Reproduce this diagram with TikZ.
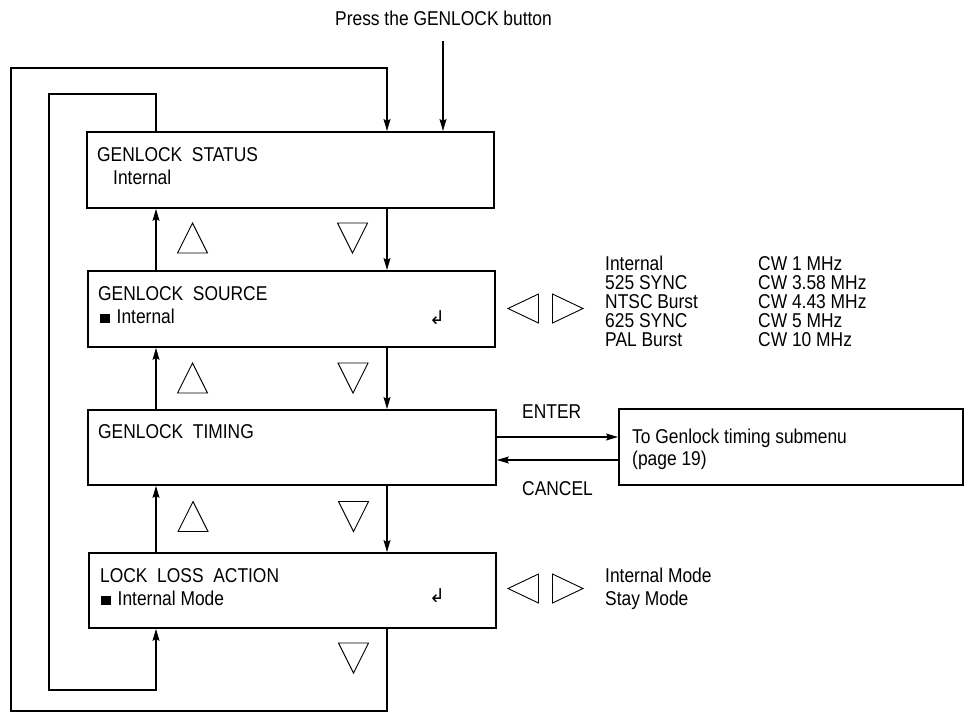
\documentclass[tikz,border=0pt]{standalone}
\usepackage{fontspec}
\setmainfont{Liberation Sans}[FakeStretch=0.87]
\newfontfamily\symfont{DejaVu Sans}
\usetikzlibrary{arrows.meta}
\begin{document}
\begin{tikzpicture}[x=1pt,y=-1pt,
  menubox/.style={draw, line width=1.9pt, rectangle, anchor=north west, inner sep=0pt},
  txt/.style={anchor=base west, inner sep=0pt, font=\fontsize{20}{20}\selectfont},
  retsym/.style={inner sep=0pt, font=\symfont\fontsize{19}{19}\selectfont},
  conn/.style={line width=1.1pt},
  arr/.style={conn, -{Stealth[length=12pt,width=7pt,inset=2pt]}},
  tri/.style={line width=0.9pt, line join=miter},
  uptri/.pic={\draw[tri] (-15,15) -- (0,-15) -- (15,15) -- cycle;},
  dntri/.pic={\draw[tri] (-15,-15) -- (0,15) -- (15,-15) -- cycle;},
  lftri/.pic={\draw[tri] (15,-14.5) -- (-15.5,0) -- (15,14.5) -- cycle;},
  rttri/.pic={\draw[tri] (-15,-14.5) -- (15.5,0) -- (-15,14.5) -- cycle;}
]
\useasboundingbox (0,0) rectangle (964,713);
\fill[white] (0,0) rectangle (964,713);

% boxes
\node[menubox, minimum width=407pt, minimum height=76pt] (b1) at (86,131) {};
\node[menubox, minimum width=407pt, minimum height=76pt] (b2) at (87,270) {};
\node[menubox, minimum width=408pt, minimum height=75pt] (b3) at (87,409) {};
\node[menubox, minimum width=407pt, minimum height=75pt] (b4) at (88,552) {};
\node[menubox, minimum width=344pt, minimum height=76pt] (sub) at (618,408) {};

% box texts
\node[txt] (t1a) at (97,161) {GENLOCK\ \ STATUS};
\node[txt] (t1b) at (113,184) {Internal};
\node[txt] (t2a) at (98,300) {GENLOCK\ \ SOURCE};
\node[txt] (t2b) at (100,323) {\rule{9.5pt}{9.5pt}\hspace{7pt}Internal};
\node[retsym] (r2) at (437,318) {↲};
\node[txt] (t3a) at (98,438) {GENLOCK\ \ TIMING};
\node[txt] (t4a) at (100,582) {LOCK\ \ LOSS\ \ ACTION};
\node[txt] (t4b) at (101,605) {\rule{9.5pt}{9.5pt}\hspace{7pt}Internal Mode};
\node[retsym] (r4) at (437,596) {↲};
\node[txt] (ts1) at (632,443) {To Genlock timing submenu};
\node[txt] (ts2) at (632,465) {(page 19)};

% top label
\node[txt] (press) at (335,25) {Press the GENLOCK button};

% option lists
\node[txt] (o1) at (605,270) {Internal};
\node[txt] (o2) at (605,289) {525 SYNC};
\node[txt] (o3) at (605,308) {NTSC Burst};
\node[txt] (o4) at (605,327) {625 SYNC};
\node[txt] (o5) at (605,346) {PAL Burst};
\node[txt] (c1) at (758,270) {CW 1 MHz};
\node[txt] (c2) at (758,289) {CW 3.58 MHz};
\node[txt] (c3) at (758,308) {CW 4.43 MHz};
\node[txt] (c4) at (758,327) {CW 5 MHz};
\node[txt] (c5) at (758,346) {CW 10 MHz};
\node[txt] (m1) at (605,582) {Internal Mode};
\node[txt] (m2) at (605,605) {Stay Mode};

\node[txt] (enter) at (522,418) {ENTER};
\node[txt] (cancel) at (522,495) {CANCEL};

% helper coordinates
\coordinate (ux) at (156,0);
\coordinate (dx) at (387,0);
\coordinate (px) at (443,41);
\coordinate (ob) at (11,711);
\coordinate (ot) at (11,68);
\coordinate (it) at (49,94);
\coordinate (ib) at (49,690);
\coordinate (ey) at (0,437);
\coordinate (cy) at (0,460);

% press arrow
\draw[arr] (px) -- (b1.north -| px);

% up arrows
\draw[arr] (b2.north -| ux) -- (b1.south -| ux);
\draw[arr] (b3.north -| ux) -- (b2.south -| ux);
\draw[arr] (b4.north -| ux) -- (b3.south -| ux);
% down arrows
\draw[arr] (b1.south -| dx) -- (b2.north -| dx);
\draw[arr] (b2.south -| dx) -- (b3.north -| dx);
\draw[arr] (b3.south -| dx) -- (b4.north -| dx);

% outer loop: bottom box back to top box
\draw[arr] (b4.south -| dx) -- (dx |- ob) -- (ob) -- (ot) -- (ot -| dx) -- (b1.north -| dx);
% inner loop: top box up to bottom box
\draw[arr] (b1.north -| ux) -- (ux |- it) -- (it) -- (ib) -- (ib -| ux) -- (b4.south -| ux);

% enter / cancel
\draw[arr] (b3.east |- ey) -- (sub.west |- ey);
\draw[arr] (sub.west |- cy) -- (b3.east |- cy);

% key triangles
\pic at (192.5,238) {uptri};
\pic at (192.5,378) {uptri};
\pic at (193,516.5) {uptri};
\pic at (352.5,238) {dntri};
\pic at (353,378) {dntri};
\pic at (353.5,516.5) {dntri};
\pic at (353.5,658) {dntri};
\pic at (523.5,308.5) {lftri};
\pic at (567.5,308.5) {rttri};
\pic at (523.5,588.5) {lftri};
\pic at (567.5,588.5) {rttri};
\end{tikzpicture}
\end{document}
